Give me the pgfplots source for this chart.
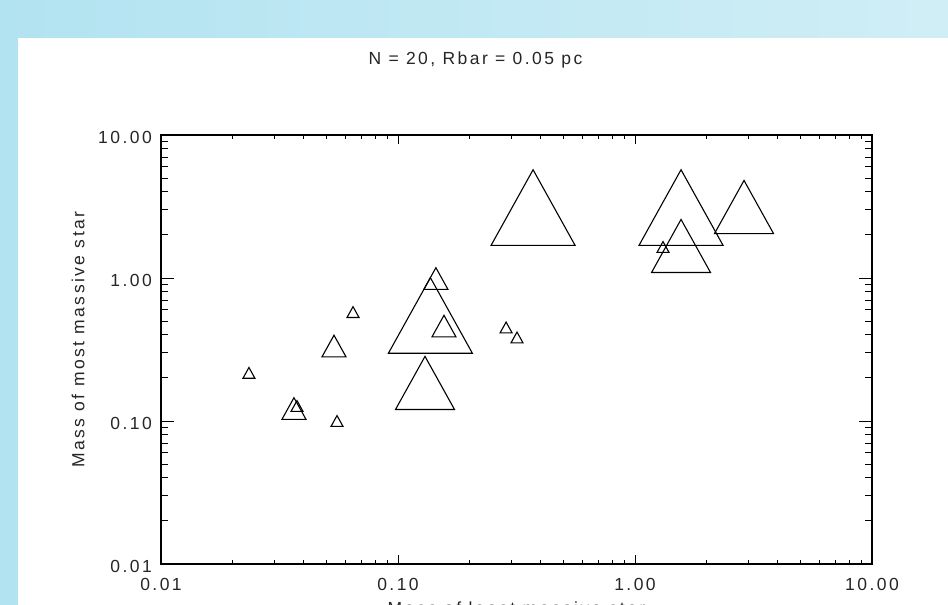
\documentclass[border=0pt]{standalone}
\usepackage{fontspec}
\setmainfont{Liberation Sans}[LetterSpace=14]
\usepackage{pgfplots}
\pgfplotsset{compat=1.18}
\definecolor{bgL}{RGB}{178,227,241}
\definecolor{bgR}{RGB}{208,238,246}
\newcommand\idl{\fontsize{17.5bp}{20bp}\selectfont}
\pgfdeclareplotmark{itri}{%
  \pgfpathmoveto{\pgfpoint{-\pgfplotmarksize}{-0.9\pgfplotmarksize}}%
  \pgfpathlineto{\pgfpoint{0pt}{0.9\pgfplotmarksize}}%
  \pgfpathlineto{\pgfpoint{\pgfplotmarksize}{-0.9\pgfplotmarksize}}%
  \pgfpathclose
  \pgfusepathqstroke}
\begin{document}
\begin{tikzpicture}[x=1bp,y=1bp]
\useasboundingbox (0,0) rectangle (948,-605);
\clip (0,0) rectangle (948,-605);
\shade[left color=bgL, right color=bgR] (0,0) rectangle (948,-605);
\fill[white] (18,-38) rectangle (948,-605);
% x ticks, data, title, xlabel
\begin{axis}[
  at={(161bp,-564bp)}, anchor=south west,
  width=711bp, height=429bp, scale only axis,
  xmode=log, ymode=log,
  xmin=0.01, xmax=10, ymin=0.01, ymax=10,
  tick align=inside,
  axis line style={line width=1.1bp, black},
  every tick/.style={line width=1bp, black},
  tick label style={font=\idl, text=black!85},
  label style={font=\idl, text=black!85},
  title style={font=\idl, text=black!85},
  xtick={0.01,0.1,1,10}, xticklabels={0.01,0.10,1.00,10.00},
  ytick=\empty,
  major tick length=9bp, minor tick length=4.5bp,
  xticklabel style={anchor=base, inner sep=0pt, yshift=-26bp},
  title={N = 20, Rbar = 0.05 pc},
  title style={at={(axis description cs:0.4423,1.1678)}, anchor=base, yshift=-7bp},
  xlabel={Mass of least massive star},
  xlabel style={at={(axis description cs:0.5,-0.1166)}, anchor=base},
]
% small
\addplot[only marks, mark=itri, mark size=6bp, line width=1.1bp, black] coordinates {
  (0.0375,0.1273) (0.0553,0.100) (0.0646,0.578) (0.0235,0.217)
  (0.2858,0.451) (0.3178,0.384) (1.313,1.648)
};
% medium
\addplot[only marks, mark=itri, mark size=12bp, line width=1.1bp, black] coordinates {
  (0.0364,0.1223) (0.0537,0.3345) (0.1445,0.992) (0.1563,0.461)
};
% large
\addplot[only marks, mark=itri, mark size=29.5bp, line width=1.1bp, black] coordinates {
  (0.130,0.1846) (1.564,1.675) (2.884,3.137)
};
% extra large
\addplot[only marks, mark=itri, mark size=42bp, line width=1.1bp, black] coordinates {
  (0.137,0.547) (0.3715,3.11) (1.564,3.11)
};
\end{axis}
% y ticks and ylabel
\begin{axis}[
  at={(161bp,-564bp)}, anchor=south west,
  width=711bp, height=429bp, scale only axis,
  xmode=log, ymode=log,
  xmin=0.01, xmax=10, ymin=0.01, ymax=10,
  tick align=inside,
  axis line style={line width=1.1bp, black},
  every tick/.style={line width=1bp, black},
  tick label style={font=\idl, text=black!85},
  label style={font=\idl, text=black!85},
  xtick=\empty,
  ytick={0.01,0.1,1,10}, yticklabels={0.01,0.10,1.00,10.00},
  major tick length=13.5bp, minor tick length=7bp,
  yticklabel style={anchor=east, inner sep=0pt, xshift=-9bp, yshift=-2bp},
  ylabel={Mass of most massive star},
  ylabel style={at={(axis description cs:-0.1167,0.523)}, anchor=center},
]
\addplot[draw=none] coordinates {(1,1)};
\end{axis}
\end{tikzpicture}
\end{document}
